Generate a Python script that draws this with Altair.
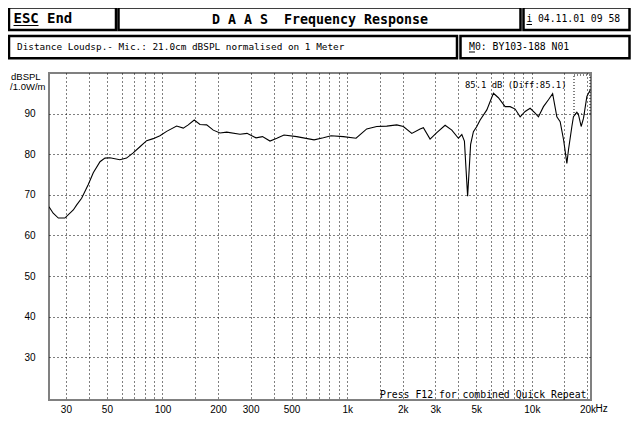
import altair as alt
import pandas as pd

# ---------------- data ----------------
freq_hz = [24.3, 25.6, 27.3, 29.6, 32.9, 34.4, 36.5, 39.6, 42.2, 45.9, 48.8, 51.9, 58.8, 63.9,
           69.4, 75.5, 82.1, 89.1, 96.9, 105.3, 119.3, 129.6, 137.9, 148.6, 159.6, 173.5, 188.4,
           204.8, 222.7, 262.9, 286.8, 321, 348, 382, 416, 455, 533, 662, 743, 818, 953, 1117,
           1276, 1446, 1638, 1856, 2015, 2238, 2482, 2586, 2811, 3056, 3390, 3686, 4002, 4176,
           4313, 4406, 4489, 4573, 4660, 4825, 5034, 5246, 5703, 6192, 6589, 7165, 7626, 8118,
           8641, 9196, 9787, 10416, 10854, 11553, 12296, 12955, 13654, 14229, 14862, 15469,
           15779, 16465, 16794, 17523, 17877, 18490, 19030, 19853, 20690]
spl_db = [67.1, 65.5, 64.3, 64.3, 66.3, 67.6, 69.2, 72.5, 75.5, 78.2, 79.1, 79.2, 78.7, 79.1,
          80.4, 81.9, 83.4, 83.9, 84.6, 85.7, 87.0, 86.5, 87.3, 88.5, 87.4, 87.3, 86.0,
          85.3, 85.5, 85.0, 85.2, 84.1, 84.4, 83.3, 84.0, 84.8, 84.4, 83.6, 84.1, 84.6, 84.4, 84.0,
          86.3, 86.9, 87.0, 87.3, 86.9, 85.2, 86.3, 86.6, 83.8, 85.4, 87.2, 86.0, 84.0, 84.9,
          83.3, 76.0, 69.7, 76.0, 82.5, 85.6, 86.9, 88.5, 91.0, 95.1, 94.0, 91.8, 91.8, 91.2,
          89.3, 90.6, 91.4, 90.2, 89.3, 91.8, 93.5, 95.0, 89.3, 88.1, 83.5, 77.8, 81.1,
          86.9, 89.3, 90.4, 89.8, 86.9, 88.9, 94.3, 95.9]

grid_freqs = [30, 40, 50, 60, 70, 80, 90, 100, 150, 200, 300, 400, 500, 600, 700, 800, 900,
              1000, 1500, 2000, 3000, 4000, 5000, 6000, 7000, 8000, 9000, 10000, 15000, 20000]
xtick_freqs = [30, 50, 100, 200, 300, 500, 1000, 2000, 3000, 5000, 10000, 20000]
xtick_labels = ["30", "50", "100", "200", "300", "500", "1k", "2k", "3k", "5k", "10k", "20k"]
ytick_values = [30, 40, 50, 60, 70, 80, 90]
x_domain = [24.3, 20900]
y_domain = [19.4, 100.1]

txt_esc = "ESC"
txt_end = "End"
txt_title = "D A A S\u00a0\u00a0Frequency Response"
txt_info = "i"
txt_date = "04.11.01 09 58"
txt_dist = "Distance Loudsp.- Mic.: 21.0cm dBSPL normalised on 1 Meter"
txt_mo = "M0: BY103-188 N01"
txt_level = "85.1 dB (Diff:85.1)"
txt_press = "Press F12 for combined Quick Repeat"
txt_ylab1 = "dBSPL"
txt_ylab2 = "/1.0W/m"
txt_hz = "Hz"

# ---------------- layout ----------------
W, H = 542, 327
MONO = "DejaVu Sans Mono"
SANS = "Liberation Sans"

label_expr = " : ".join(
    f"datum.value == {v} ? '{t}'" for v, t in zip(xtick_freqs, xtick_labels)
) + " : ''"

df = pd.DataFrame({"f": freq_hz, "db": spl_db})
xscale = alt.Scale(type="log", domain=x_domain, nice=False)
yscale = alt.Scale(domain=y_domain, nice=False, zero=False)

curve = alt.Chart(df).mark_line(color="black", strokeWidth=1.1, clip=True).encode(
    x=alt.X("f:Q", scale=xscale, axis=alt.Axis(
        values=grid_freqs, grid=True, gridDash=[1, 3], gridColor="black", gridWidth=1,
        gridOpacity=1, ticks=False, domain=False, labelExpr=label_expr,
        labelFont=SANS, labelFontSize=10, labelColor="black", labelPadding=4,
        labelOverlap=False, labelFlush=False, title=None)),
    y=alt.Y("db:Q", scale=yscale, axis=alt.Axis(
        values=ytick_values, grid=True, gridDash=[1, 3], gridColor="black", gridWidth=1,
        gridOpacity=1, ticks=False, domain=False, labelFont=SANS, labelFontSize=10,
        labelColor="black", labelPadding=14, title=None)),
)

one = pd.DataFrame({"k": [0]})


def box(x0, x1, y0, y1, w=2.5, dash=None):
    kw = dict(filled=False, color="black", strokeWidth=w)
    if dash:
        kw["strokeDash"] = dash
    return alt.Chart(one).mark_rect(**kw).encode(
        x=alt.value(x0), x2=alt.value(x1), y=alt.value(y0), y2=alt.value(y1))


def rule(x0, x1, y, w=1):
    return alt.Chart(one).mark_rule(color="black", strokeWidth=w).encode(
        x=alt.value(x0), x2=alt.value(x1), y=alt.value(y))


def label(txt, x, y, size, font=MONO, weight="normal", align="left"):
    return alt.Chart(one).mark_text(
        text=txt, align=align, baseline="middle", font=font, fontSize=size,
        fontWeight=weight, color="black").encode(x=alt.value(x), y=alt.value(y))


hz = alt.Chart(pd.DataFrame({"f": [xtick_freqs[-1]], "t": [txt_hz]})).mark_text(
    align="left", baseline="top", dx=8, font=SANS, fontSize=10, color="black"
).encode(x=alt.X("f:Q", scale=xscale), y=alt.value(H + 4), text="t:N")

layers = [
    curve,
    hz,
    # header boxes
    box(-40, 67, -65.5, -43),
    box(69.5, 471.5, -65.5, -43),
    box(474.5, 580.5, -65.5, -43),
    box(-40, 408, -37, -14.7),
    box(411.5, 580.5, -37, -14.7),
    # header texts
    label(txt_esc, -35.5, -54.5, 14, weight="bold"),
    rule(-35.5, -10.5, -47.5),
    label(txt_end, -2, -54.5, 14, weight="bold"),
    label(txt_title, 271, -53, 13.3, weight="bold", align="center"),
    label(txt_info, 477.5, -54, 9.75),
    rule(477.5, 483, -48.5),
    label(txt_date, 489, -54, 9.75),
    label(txt_dist, -32, -26, 9.4),
    label(txt_mo, 420, -26, 9.8),
    rule(420, 426, -21),
    # in-plot texts
    label(txt_level, 416, 12, 8.9),
    label(txt_press, 331, 322, 9.8),
    label(txt_ylab1, -23.2, 4, 9.5, font=SANS, align="center"),
    label(txt_ylab2, -21.2, 13.5, 9.5, font=SANS, align="center"),
    # small dotted marker box top-right
    box(525, 541, 2, 41, w=1, dash=[1, 2]),
]

chart = alt.layer(*layers).properties(
    width=W, height=H,
    autosize=alt.AutoSizeParams(type="none"),
    padding={"left": 41, "top": 65, "right": 40, "bottom": 16},
    background="white",
).configure_view(stroke="#808080", strokeWidth=2)

chart.save("out.html", embed_options={"renderer": "svg", "actions": False})
